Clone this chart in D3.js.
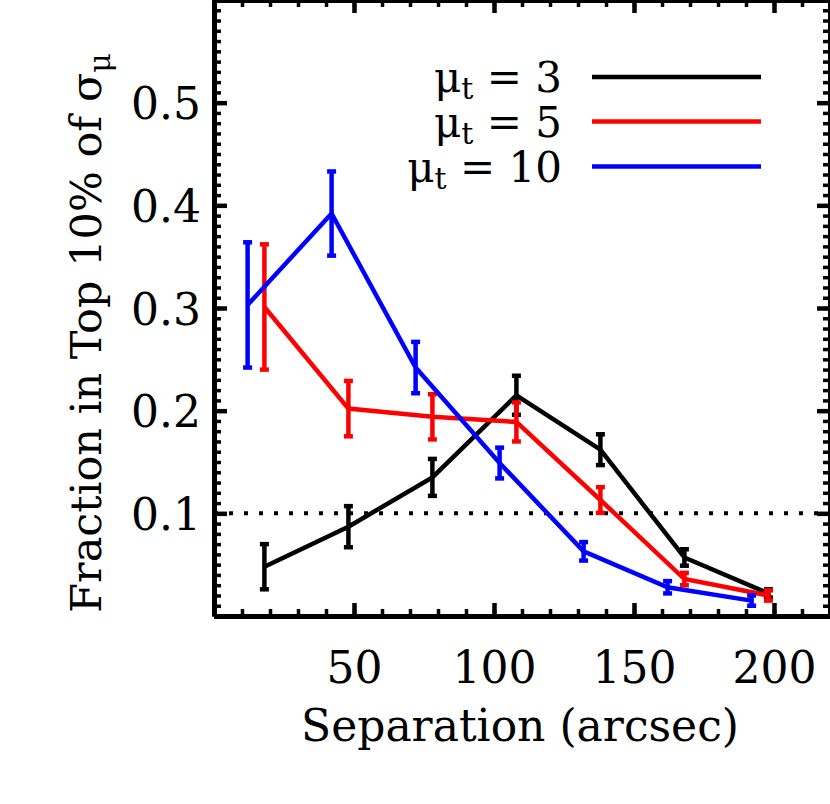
<!DOCTYPE html>
<html>
<head>
<meta charset="utf-8">
<script src="https://cdn.jsdelivr.net/npm/d3@7"></script>
<style>
  html, body { margin: 0; padding: 0; background: #fff; }
  svg { display: block; }
  text { font-family: "DejaVu Serif", serif; fill: #000; }
</style>
</head>
<body>
<svg id="chart" width="830" height="804"></svg>
<script>
// ---- data ----
const sepBlack = [18, 48, 78, 108, 138, 168, 198];
const fracBlack = [0.048, 0.087, 0.135, 0.215, 0.162, 0.057, 0.022];
const errBlack = [0.022, 0.020, 0.018, 0.019, 0.015, 0.008, 0.004];

const sepRed = [18, 48, 78, 108, 138, 168, 198];
const fracRed = [0.301, 0.202, 0.194, 0.189, 0.113, 0.036, 0.020];
const errRed = [0.061, 0.027, 0.022, 0.019, 0.0125, 0.006, 0.005];

const sepBlue = [12, 42, 72, 102, 132, 162, 192];
const fracBlue = [0.303, 0.392, 0.242, 0.149, 0.063, 0.028, 0.015];
const errBlue = [0.061, 0.041, 0.025, 0.015, 0.009, 0.006, 0.005];

const legendValues = ["3", "5", "10"];
const xTickValues = [50, 100, 150, 200];
const yTickValues = [0.1, 0.2, 0.3, 0.4, 0.5];
const thresholdLevel = 0.1;

// ---- layout ----
const svg = d3.select("#chart");
const L = 214, R = 830, T = 0, B = 616;
const FS = 44;
const x = d3.scaleLinear().domain([0, 220]).range([L, R]);
const y = d3.scaleLinear().domain([0, 0.6]).range([B, T]);

const series = [
  { sep: sepBlack, frac: fracBlack, err: errBlack, color: "#000000", label: legendValues[0] },
  { sep: sepRed, frac: fracRed, err: errRed, color: "#ff0000", label: legendValues[1] },
  { sep: sepBlue, frac: fracBlue, err: errBlue, color: "#0000ff", label: legendValues[2] }
];

// ---- axes ----
function styleAxis(g, w) {
  g.selectAll(".domain").attr("stroke", "#000").attr("stroke-width", 5);
  g.selectAll(".tick line").attr("stroke", "#000").attr("stroke-width", w);
  g.selectAll(".tick text").remove();
}
const xMinor = d3.range(0, 221, 10);
const yMinor = d3.range(0, 61, 1).map(d => d / 100);

// minor ticks
svg.append("g").attr("transform", `translate(0,${B})`)
  .call(d3.axisBottom(x).tickValues(xMinor).tickSizeInner(-7).tickSizeOuter(0))
  .call(g => styleAxis(g, 3.5));
svg.append("g").attr("transform", `translate(0,${T})`)
  .call(d3.axisTop(x).tickValues(xMinor).tickSizeInner(-7).tickSizeOuter(0))
  .call(g => styleAxis(g, 3.5));
svg.append("g").attr("transform", `translate(${L},0)`)
  .call(d3.axisLeft(y).tickValues(yMinor).tickSizeInner(-7).tickSizeOuter(0))
  .call(g => styleAxis(g, 3.5));
svg.append("g").attr("transform", `translate(${R},0)`)
  .call(d3.axisRight(y).tickValues(yMinor).tickSizeInner(-7).tickSizeOuter(0))
  .call(g => styleAxis(g, 3.5));

// major ticks
svg.append("g").attr("transform", `translate(0,${T})`)
  .call(d3.axisTop(x).tickValues(xTickValues).tickSizeInner(-13).tickSizeOuter(0))
  .call(g => styleAxis(g, 4.5));
svg.append("g").attr("transform", `translate(${R},0)`)
  .call(d3.axisRight(y).tickValues(yTickValues).tickSizeInner(-13).tickSizeOuter(0))
  .call(g => styleAxis(g, 4.5));

const xAx = svg.append("g").attr("transform", `translate(0,${B})`)
  .call(d3.axisBottom(x).tickValues(xTickValues).tickSizeInner(-13).tickSizeOuter(0).tickFormat(d3.format("d")));
xAx.selectAll(".domain").attr("stroke", "#000").attr("stroke-width", 5);
xAx.selectAll(".tick line").attr("stroke", "#000").attr("stroke-width", 4.5);
xAx.selectAll(".tick text").attr("y", 67).attr("dy", null)
  .style("font-size", FS + "px").style("font-family", "DejaVu Serif, serif").attr("fill", "#000");

const yAx = svg.append("g").attr("transform", `translate(${L},0)`)
  .call(d3.axisLeft(y).tickValues(yTickValues).tickSizeInner(-13).tickSizeOuter(0).tickFormat(d3.format(".1f")));
yAx.selectAll(".domain").attr("stroke", "#000").attr("stroke-width", 5);
yAx.selectAll(".tick line").attr("stroke", "#000").attr("stroke-width", 4.5);
yAx.selectAll(".tick text").attr("x", -13).attr("dy", "0.37em")
  .style("font-size", FS + "px").style("font-family", "DejaVu Serif, serif").attr("fill", "#000");

// ---- threshold dotted line ----
svg.append("line")
  .attr("x1", x(0)).attr("x2", x(220))
  .attr("y1", y(thresholdLevel)).attr("y2", y(thresholdLevel))
  .attr("stroke", "#000").attr("stroke-width", 4).attr("stroke-dasharray", "4,11");

// ---- series ----
const line = d3.line().x(d => x(d[0])).y(d => y(d[1]));
series.forEach(s => {
  const pts = s.sep.map((v, i) => [v, s.frac[i], s.err[i]]);
  const g = svg.append("g");
  g.append("path").datum(pts).attr("d", line)
    .attr("fill", "none").attr("stroke", s.color).attr("stroke-width", 4.5)
    .attr("stroke-linejoin", "miter");
  const eb = g.selectAll(".eb").data(pts).enter().append("g");
  eb.append("line")
    .attr("x1", d => x(d[0])).attr("x2", d => x(d[0]))
    .attr("y1", d => y(d[1] - d[2])).attr("y2", d => y(d[1] + d[2]))
    .attr("stroke", s.color).attr("stroke-width", 4.5);
  [-1, 1].forEach(sg => {
    eb.append("line")
      .attr("x1", d => x(d[0]) - 4.5).attr("x2", d => x(d[0]) + 4.5)
      .attr("y1", d => y(d[1] + sg * d[2])).attr("y2", d => y(d[1] + sg * d[2]))
      .attr("stroke", s.color).attr("stroke-width", 4.5);
  });
});

// ---- legend ----
const legY = [77, 121.5, 166.5];
series.forEach((s, i) => {
  const t = svg.append("text")
    .attr("x", 562).attr("y", legY[i] + 15)
    .attr("text-anchor", "end")
    .style("font-size", "42px");
  t.append("tspan").text("\u03bc");
  t.append("tspan").attr("dy", 7).style("font-size", "30px").text("t");
  t.append("tspan").attr("dy", -7).text(" = " + s.label);
  svg.append("line")
    .attr("x1", 592).attr("x2", 761)
    .attr("y1", legY[i]).attr("y2", legY[i])
    .attr("stroke", s.color).attr("stroke-width", 4.5);
});

// ---- axis titles ----
svg.append("text")
  .attr("x", 520).attr("y", 741)
  .attr("text-anchor", "middle")
  .style("font-size", FS + "px")
  .text("Separation (arcsec)");

const yt = svg.append("text")
  .attr("transform", "translate(101,333) rotate(-90)")
  .attr("text-anchor", "middle")
  .style("font-size", "43px");
yt.append("tspan").text("Fraction in Top 10% of \u03c3");
yt.append("tspan").attr("dy", 9).style("font-size", "30px").text("\u03bc");
</script>
</body>
</html>
